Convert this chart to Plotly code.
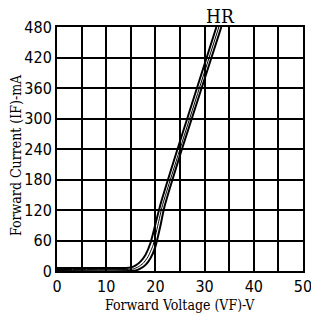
import plotly.graph_objects as go

# Forward voltage (V) / current (mA) readings for the three HR curves
v_left = [0, 14, 15, 16, 17, 18, 19, 20, 21, 24.5, 32.4]
i_left = [6, 6, 7, 11, 19, 32, 55, 92, 130, 240, 480]
v_mid = [0, 14.5, 15.5, 16.5, 17.5, 18.5, 19.5, 20.5, 21.4, 25, 32.9]
i_mid = [3, 3, 4, 8, 15, 28, 50, 90, 128, 240, 480]
v_right = [0, 15, 16, 17, 18, 19, 20, 21, 21.8, 25.4, 33.4]
i_right = [0, 0, 1, 5, 12, 25, 48, 88, 125, 240, 480]

x_ticks = [0, 10, 20, 30, 40, 50]
y_ticks = [0, 60, 120, 180, 240, 300, 360, 420, 480]
label = "HR"
x_title = "Forward Voltage (VF)-V"
y_title = "Forward Current (IF)-mA"

fig = go.Figure()
for v, i, w in [(v_left, i_left, 2), (v_mid, i_mid, 1), (v_right, i_right, 2)]:
    fig.add_trace(go.Scatter(x=v, y=i, mode="lines",
                             line=dict(color="black", width=w, shape="spline", smoothing=0.5),
                             showlegend=False, hoverinfo="skip"))

tickfont = dict(family="DejaVu Sans Condensed, Liberation Sans Narrow, Liberation Sans", size=16, color="black")
titlefont = dict(family="DejaVu Serif Condensed, DejaVu Serif", size=14, color="black")

fig.update_xaxes(range=[0, 50], tickvals=x_ticks, ticktext=[str(t) for t in x_ticks],
                 showgrid=True, gridcolor="black", gridwidth=1.5,
                 minor=dict(dtick=5, showgrid=True, gridcolor="black", gridwidth=1.5),
                 showline=True, linecolor="black", linewidth=2, mirror=True,
                 zeroline=False, tickfont=tickfont, automargin=False,
                 ticklabeloverflow="allow")
fig.update_yaxes(range=[0, 480], tickvals=y_ticks, ticktext=[str(t) for t in y_ticks],
                 showgrid=True, gridcolor="black", gridwidth=1.5,
                 showline=True, linecolor="black", linewidth=2, mirror=True,
                 zeroline=False, tickfont=tickfont, automargin=False,
                 ticklabeloverflow="allow")

fig.add_annotation(x=0.5, y=0, xref="paper", yref="paper", text=x_title, showarrow=False,
                   xanchor="center", yanchor="middle", yshift=-34, font=titlefont)
fig.add_annotation(x=0, y=0.5, xref="paper", yref="paper", text=y_title, showarrow=False,
                   textangle=-90, xanchor="center", yanchor="middle", xshift=-41, yshift=-6,
                   font=titlefont)
fig.add_annotation(x=33.2, y=480, xref="x", yref="y", text=label, showarrow=False,
                   xanchor="center", yanchor="bottom", yshift=-2,
                   font=dict(family="DejaVu Serif Condensed, DejaVu Serif", size=19, color="black"))

fig.update_layout(width=311, height=316, margin=dict(l=57, r=8, t=27, b=45),
                  plot_bgcolor="white", paper_bgcolor="white")
fig.write_html("out.html", config={"displayModeBar": False},
               post_script="document.body.style.margin='0';document.body.style.overflow='hidden';")
